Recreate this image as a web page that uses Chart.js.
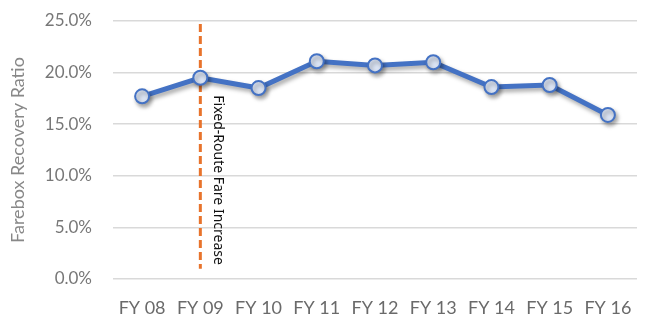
<!DOCTYPE html>
<html>
<head>
<meta charset="utf-8">
<script src="https://cdn.jsdelivr.net/npm/chart.js@4/dist/chart.umd.min.js"></script>
<style>
  html, body { margin: 0; padding: 0; background: #fff; }
  #wrap { width: 646px; height: 328px; }
</style>
</head>
<body>
<div id="wrap"><canvas id="c"></canvas></div>
<script>
// Fiscal years on the x axis
const years = ['FY 08', 'FY 09', 'FY 10', 'FY 11', 'FY 12', 'FY 13', 'FY 14', 'FY 15', 'FY 16'];
// Farebox recovery ratio (%) by year
const recovery = [17.7, 19.5, 18.5, 21.1, 20.7, 21.0, 18.6, 18.8, 15.9];
// Y axis ticks (%)
const yTicks = [0, 5, 10, 15, 20, 25];
// Marker for the fare change: year, vertical extent (%), and caption
const fareChangeYear = 'FY 09';
const fareChangeSpan = [1.0, 24.7];
const fareChangeText = 'Fixed-Route Fare Increase';

const FONT = 'Lato, "Noto Sans", sans-serif';

// Soft drop shadow under the line series
const lineShadow = {
  id: 'lineShadow',
  beforeDatasetDraw(chart) {
    const ctx = chart.ctx;
    ctx.save();
    ctx.shadowColor = 'rgba(0,0,0,0.35)';
    ctx.shadowBlur = 4;
    ctx.shadowOffsetX = 2;
    ctx.shadowOffsetY = 3;
  },
  afterDatasetDraw(chart) {
    chart.ctx.restore();
  }
};

// Dashed vertical marker with rotated caption
const fareMarker = {
  id: 'fareMarker',
  beforeDatasetsDraw(chart) {
    const { ctx, scales: { x, y } } = chart;
    const px = x.getPixelForValue(years.indexOf(fareChangeYear));
    const y0 = y.getPixelForValue(fareChangeSpan[0]);
    const y1 = y.getPixelForValue(fareChangeSpan[1]);
    ctx.save();
    ctx.strokeStyle = '#e8732c';
    ctx.lineWidth = 3;
    ctx.setLineDash([8, 4]);
    ctx.beginPath();
    ctx.moveTo(px, y1);
    ctx.lineTo(px, y0);
    ctx.stroke();
    ctx.restore();

    ctx.save();
    ctx.translate(px + 18, y.getPixelForValue(17.8));
    ctx.rotate(Math.PI / 2);
    ctx.fillStyle = '#111';
    ctx.font = '14px "Noto Sans", sans-serif';
    ctx.textAlign = 'left';
    ctx.textBaseline = 'middle';
    ctx.fillText(fareChangeText, 0, 0);
    ctx.restore();
  }
};

new Chart(document.getElementById('c'), {
  type: 'line',
  data: {
    labels: years,
    datasets: [{
      data: recovery,
      borderColor: '#4472c4',
      borderWidth: 5,
      pointRadius: 7,
      pointBorderWidth: 2,
      pointBackgroundColor: '#dae3f3',
      pointBorderColor: '#4472c4',
      tension: 0
    }]
  },
  options: {
    responsive: true,
    maintainAspectRatio: false,
    animation: false,
    layout: { padding: { left: 0, right: 8, top: 21, bottom: 0 } },
    plugins: { legend: { display: false }, tooltip: { enabled: false } },
    scales: {
      x: {
        offset: true,
        grid: { display: false, drawTicks: false },
        border: { display: false },
        afterFit(scale) {
          scale.height = 49;
          scale.paddingLeft = 0;
          scale.paddingRight = 0;
        },
        ticks: {
          color: '#6a6a6a',
          padding: 18,
          font: { family: FONT, size: 18 }
        }
      },
      y: {
        min: 0,
        max: 25,
        afterBuildTicks(scale) { scale.ticks = yTicks.map(v => ({ value: v })); },
        afterFit(scale) {
          scale.width = 113;
          scale.paddingTop = 0;
          scale.paddingBottom = 0;
        },
        grid: { color: '#d9d9d9', lineWidth: 1.5, drawTicks: false },
        border: { display: false },
        ticks: {
          color: '#777',
          padding: 21,
          font: { family: FONT, size: 17 },
          callback: v => v.toFixed(1) + '%'
        },
        title: {
          display: true,
          text: 'Farebox Recovery Ratio',
          color: '#888',
          padding: { top: 7, bottom: 4 },
          font: { family: FONT, size: 18 }
        }
      }
    }
  },
  plugins: [lineShadow, fareMarker]
});
</script>
</body>
</html>
